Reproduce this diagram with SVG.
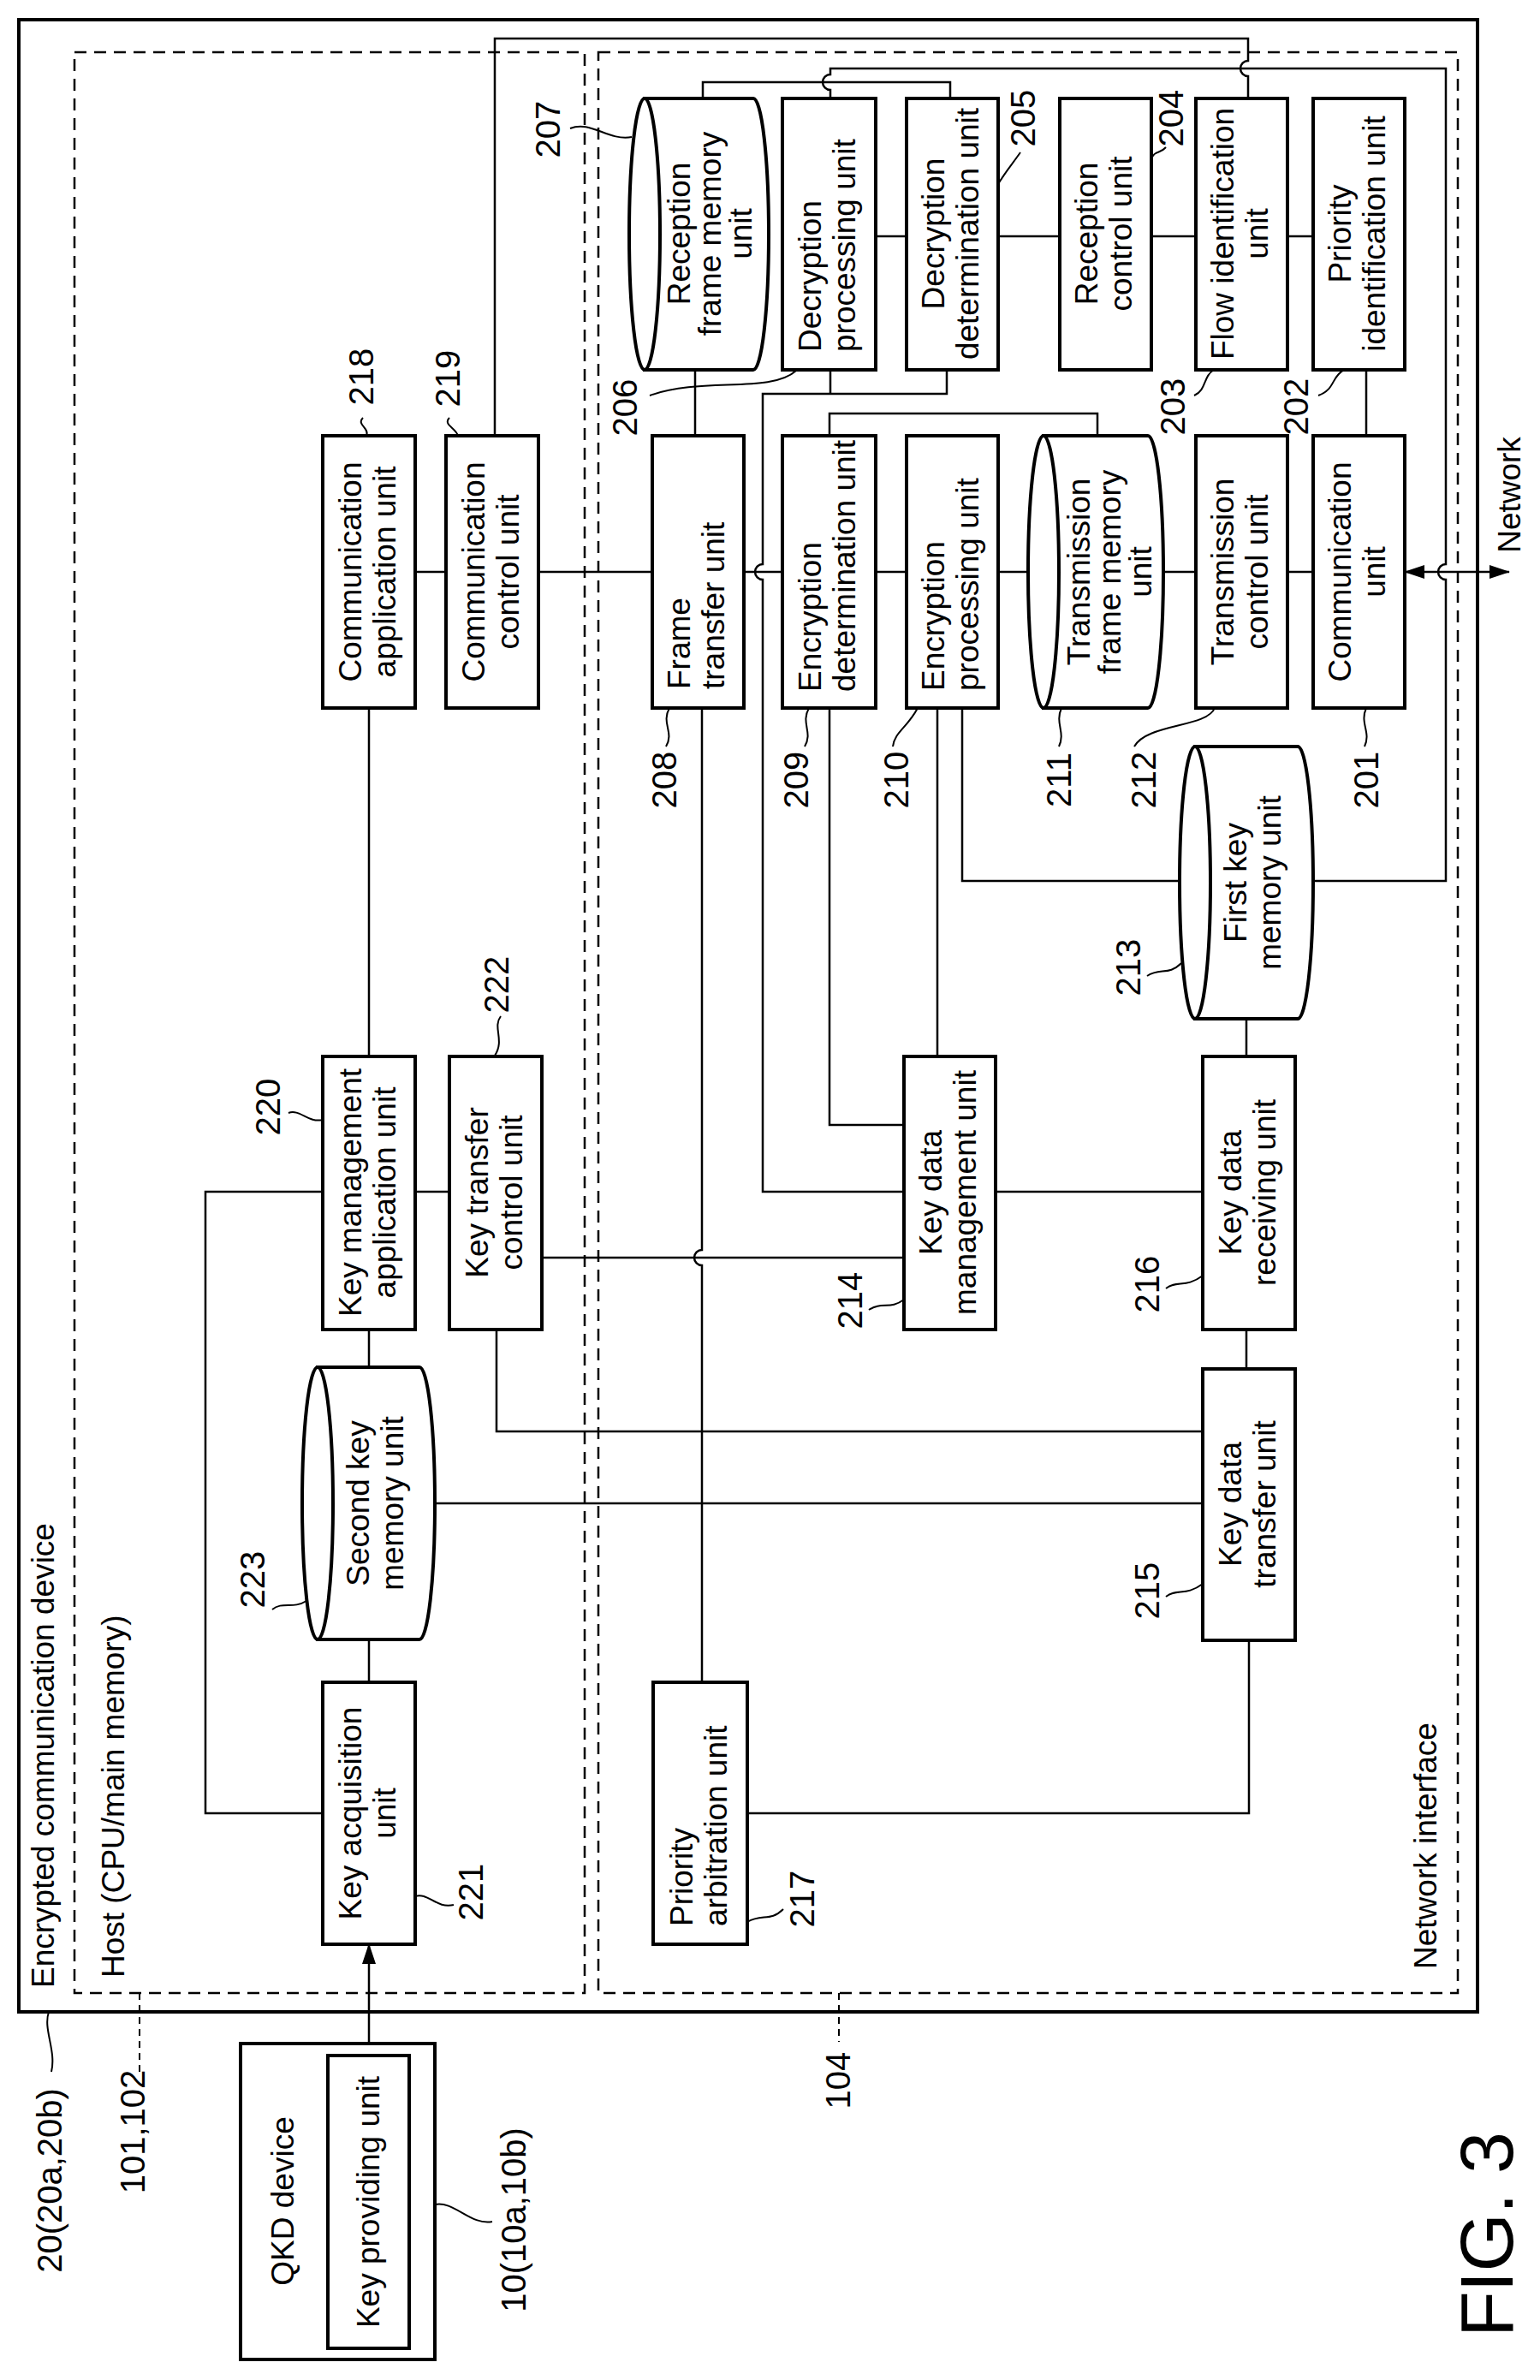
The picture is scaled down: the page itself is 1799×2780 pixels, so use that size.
<svg xmlns="http://www.w3.org/2000/svg" width="1799" height="2780" viewBox="0 0 1799 2780">
<style>
.b{fill:#fff;stroke:#000;stroke-width:4}
.c{fill:none;stroke:#000;stroke-width:2.5}
.d{fill:none;stroke:#000;stroke-width:2.5;stroke-dasharray:14 9}
.l{fill:none;stroke:#000;stroke-width:2}
.ld{fill:none;stroke:#000;stroke-width:2;stroke-dasharray:8 6}
text{font-family:"Liberation Sans",Arial,sans-serif;font-size:37px;fill:#000}
.m{text-anchor:middle}
.s{text-anchor:start}
.n{font-size:40px;text-anchor:middle}
</style>
<defs>
<marker id="ah" viewBox="0 0 24 16" refX="23" refY="8" markerWidth="24" markerHeight="16" markerUnits="userSpaceOnUse" orient="auto-start-reverse"><path d="M0,0 L24,8 L0,16 Z" fill="#000"/></marker>
</defs>
<g id="frames">
<rect x="22" y="23" width="1704" height="2327" fill="none" stroke="#000" stroke-width="4"/>
<rect class="d" x="87" y="61" width="596" height="2267"/>
<rect class="d" x="699" y="61" width="1004" height="2267"/>
<text transform="translate(63,2322) rotate(-90)" class="s">Encrypted communication device</text>
<text transform="translate(145,2310) rotate(-90)" class="s">Host (CPU/main memory)</text>
<text transform="translate(1678,2300) rotate(-90)" class="s">Network interface</text>
</g>
<g id="connectors">
<path class="c" d="M485,668H521M629,668H762M869,668H914M1023,668H1059M1166,668H1201M1359,668H1397M1504,668H1534"/>
<path class="c" d="M1641,668H1763" marker-start="url(#ah)" marker-end="url(#ah)"/>
<path class="c" d="M1596,432V509M1023,276H1059M1166,276H1238M1345,276H1397M1504,276H1534M812,432V509"/>
<path class="c" d="M821,115V96H1110V115"/>
<path class="c" d="M970,115V105A9,9 0 0 1 970,87V80H1689V659A9,9 0 0 0 1689,677V1029H1534"/>
<path class="c" d="M1124,827V1029H1378"/>
<path class="c" d="M970,432V460M1106,432V460H891V659A9,9 0 0 0 891,677V1392H1056"/>
<path class="c" d="M969,509V483H1282V509"/>
<path class="c" d="M969,827V1314H1056M1095,827V1234"/>
<path class="c" d="M578,509V45H1458V71A9,9 0 0 0 1458,89V115"/>
<path class="c" d="M431,827V1234M485,1392H525M377,1392H240V2118H377M431,1553V1597M431,1915V1965"/>
<path class="c" d="M431,2401V2271" marker-end="url(#ah)"/>
<path class="c" d="M633,1469H1056M580,1553V1672H1405M508,1756H1405"/>
<path class="c" d="M820,827V1460A9,9 0 0 0 820,1478V1965"/>
<path class="c" d="M1163,1392H1405M1456,1190V1234M1456,1553V1599M1459,1916V2118H873"/>
</g>
<g id="n218"><rect class="b" x="377" y="509" width="108" height="318"/><text class="m" transform="translate(431,668) rotate(-90)"><tspan x="0" y="-9">Communication</tspan><tspan x="0" y="31">application unit</tspan></text></g>
<g id="n219"><rect class="b" x="521" y="509" width="108" height="318"/><text class="m" transform="translate(575,668) rotate(-90)"><tspan x="0" y="-9">Communication</tspan><tspan x="0" y="31">control unit</tspan></text></g>
<g id="n208"><rect class="b" x="762" y="509" width="107" height="318"/><text class="s" transform="translate(815,668) rotate(-90)"><tspan x="-137" y="-9">Frame</tspan><tspan x="-137" y="31">transfer unit</tspan></text></g>
<g id="n206"><rect class="b" x="914" y="115" width="109" height="317"/><text class="s" transform="translate(968,273) rotate(-90)"><tspan x="-138" y="-9">Decryption</tspan><tspan x="-138" y="31">processing unit</tspan></text></g>
<g id="n205"><rect class="b" x="1059" y="115" width="107" height="317"/><text class="m" transform="translate(1112,273) rotate(-90)"><tspan x="0" y="-9">Decryption</tspan><tspan x="0" y="31">determination unit</tspan></text></g>
<g id="n204"><rect class="b" x="1238" y="115" width="107" height="317"/><text class="m" transform="translate(1291,273) rotate(-90)"><tspan x="0" y="-9">Reception</tspan><tspan x="0" y="31">control unit</tspan></text></g>
<g id="n203"><rect class="b" x="1397" y="115" width="107" height="317"/><text class="m" transform="translate(1450,273) rotate(-90)"><tspan x="0" y="-9">Flow identification</tspan><tspan x="0" y="31">unit</tspan></text></g>
<g id="n202"><rect class="b" x="1534" y="115" width="107" height="317"/><text class="m" transform="translate(1587,273) rotate(-90)"><tspan x="0" y="-9">Priority</tspan><tspan x="0" y="31">identification unit</tspan></text></g>
<g id="n209"><rect class="b" x="914" y="509" width="109" height="318"/><text class="s" transform="translate(968,668) rotate(-90)"><tspan x="-140" y="-9">Encryption</tspan><tspan x="-140" y="31">determination unit</tspan></text></g>
<g id="n210"><rect class="b" x="1059" y="509" width="107" height="318"/><text class="s" transform="translate(1112,668) rotate(-90)"><tspan x="-139" y="-9">Encryption</tspan><tspan x="-139" y="31">processing unit</tspan></text></g>
<g id="n212"><rect class="b" x="1397" y="509" width="107" height="318"/><text class="m" transform="translate(1450,668) rotate(-90)"><tspan x="0" y="-9">Transmission</tspan><tspan x="0" y="31">control unit</tspan></text></g>
<g id="n201"><rect class="b" x="1534" y="509" width="107" height="318"/><text class="m" transform="translate(1587,668) rotate(-90)"><tspan x="0" y="-9">Communication</tspan><tspan x="0" y="31">unit</tspan></text></g>
<g id="n220"><rect class="b" x="377" y="1234" width="108" height="319"/><text class="m" transform="translate(431,1393) rotate(-90)"><tspan x="0" y="-9">Key management</tspan><tspan x="0" y="31">application unit</tspan></text></g>
<g id="n222"><rect class="b" x="525" y="1234" width="108" height="319"/><text class="m" transform="translate(579,1393) rotate(-90)"><tspan x="0" y="-9">Key transfer</tspan><tspan x="0" y="31">control unit</tspan></text></g>
<g id="n214"><rect class="b" x="1056" y="1234" width="107" height="319"/><text class="m" transform="translate(1109,1393) rotate(-90)"><tspan x="0" y="-9">Key data</tspan><tspan x="0" y="31">management unit</tspan></text></g>
<g id="n216"><rect class="b" x="1405" y="1234" width="108" height="319"/><text class="m" transform="translate(1459,1393) rotate(-90)"><tspan x="0" y="-9">Key data</tspan><tspan x="0" y="31">receiving unit</tspan></text></g>
<g id="n215"><rect class="b" x="1405" y="1599" width="108" height="317"/><text class="m" transform="translate(1459,1757) rotate(-90)"><tspan x="0" y="-9">Key data</tspan><tspan x="0" y="31">transfer unit</tspan></text></g>
<g id="n221"><rect class="b" x="377" y="1965" width="108" height="306"/><text class="m" transform="translate(431,2118) rotate(-90)"><tspan x="0" y="-9">Key acquisition</tspan><tspan x="0" y="31">unit</tspan></text></g>
<g id="n217"><rect class="b" x="763" y="1965" width="110" height="306"/><text class="s" transform="translate(818,2118) rotate(-90)"><tspan x="-132" y="-9">Priority</tspan><tspan x="-132" y="31">arbitration unit</tspan></text></g>
<g id="n207"><path class="b" d="M753,115H880A18,158.5 0 0 1 880,432H753Z"/><ellipse class="b" cx="753" cy="273.5" rx="18" ry="158.5"/><text class="m" transform="translate(832,273) rotate(-90)"><tspan x="0" y="-26">Reception</tspan><tspan x="0" y="10">frame memory</tspan><tspan x="0" y="46">unit</tspan></text></g>
<g id="n211"><path class="b" d="M1219,509H1341A18,159 0 0 1 1341,827H1219Z"/><ellipse class="b" cx="1219" cy="668" rx="18" ry="159"/><text class="m" transform="translate(1299,668) rotate(-90)"><tspan x="0" y="-26">Transmission</tspan><tspan x="0" y="10">frame memory</tspan><tspan x="0" y="46">unit</tspan></text></g>
<g id="n213"><path class="b" d="M1396,872H1516A18,159 0 0 1 1516,1190H1396Z"/><ellipse class="b" cx="1396" cy="1031" rx="18" ry="159"/><text class="m" transform="translate(1465,1031) rotate(-90)"><tspan x="0" y="-9">First key</tspan><tspan x="0" y="31">memory unit</tspan></text></g>
<g id="n223"><path class="b" d="M371,1597H490A18,159 0 0 1 490,1915H371Z"/><ellipse class="b" cx="371" cy="1756" rx="18" ry="159"/><text class="m" transform="translate(440,1756) rotate(-90)"><tspan x="0" y="-9">Second key</tspan><tspan x="0" y="31">memory unit</tspan></text></g>
<g id="qkd"><rect class="b" x="281" y="2387" width="227" height="369"/><rect class="b" x="383" y="2401" width="95" height="342"/><text class="m" transform="translate(330,2571) rotate(-90)" y="13">QKD device</text><text class="m" transform="translate(430,2572) rotate(-90)" y="13">Key providing unit</text></g>
<g id="network"><text class="m" transform="translate(1776,578) rotate(-90)">Network</text></g>
<g id="labels">
<path class="l" d="M666,150C690,140 710,165 738,160M424,488C416,496 432,500 428,509M525,488C517,496 533,500 535,509M759,462C820,440 900,460 930,433M782,827C772,845 788,855 778,872M945,827C935,845 950,855 940,872M1072,827C1060,850 1045,855 1043,872M1240,827C1232,845 1245,855 1237,872M1419,827C1410,850 1340,845 1325,872M1596,827C1588,845 1602,855 1594,872M1166,215C1175,200 1180,195 1192,178M1345,185C1350,175 1355,180 1362,172M1418,432C1405,440 1410,455 1395,462M1570,432C1555,440 1560,455 1540,462M337,1300C350,1295 360,1312 377,1308M585,1187C575,1200 590,1215 578,1233M1015,1530C1030,1520 1040,1530 1056,1518M1362,1505C1375,1495 1385,1505 1405,1490M1362,1865C1375,1855 1385,1865 1405,1850M1340,1140C1355,1130 1365,1140 1380,1125M318,1880C330,1870 342,1880 358,1870M485,2215C500,2210 510,2230 530,2225M873,2245C890,2235 900,2245 915,2230M57,2350C50,2370 66,2395 60,2420M508,2575C530,2570 550,2600 575,2595"/>
<path class="ld" d="M980,2328V2385M163,2328V2420"/>
<text class="n" transform="translate(640,151) rotate(-90)" y="14">207</text>
<text class="n" transform="translate(422,440) rotate(-90)" y="14">218</text>
<text class="n" transform="translate(523,442) rotate(-90)" y="14">219</text>
<text class="n" transform="translate(730,476) rotate(-90)" y="14">206</text>
<text class="n" transform="translate(776,911) rotate(-90)" y="14">208</text>
<text class="n" transform="translate(930,911) rotate(-90)" y="14">209</text>
<text class="n" transform="translate(1047,911) rotate(-90)" y="14">210</text>
<text class="n" transform="translate(1237,911) rotate(-90)" y="14">211</text>
<text class="n" transform="translate(1336,911) rotate(-90)" y="14">212</text>
<text class="n" transform="translate(1596,911) rotate(-90)" y="14">201</text>
<text class="n" transform="translate(1195,138) rotate(-90)" y="14">205</text>
<text class="n" transform="translate(1368,138) rotate(-90)" y="14">204</text>
<text class="n" transform="translate(1370,475) rotate(-90)" y="14">203</text>
<text class="n" transform="translate(1514,475) rotate(-90)" y="14">202</text>
<text class="n" transform="translate(313,1293) rotate(-90)" y="14">220</text>
<text class="n" transform="translate(580,1150) rotate(-90)" y="14">222</text>
<text class="n" transform="translate(993,1519) rotate(-90)" y="14">214</text>
<text class="n" transform="translate(1340,1500) rotate(-90)" y="14">216</text>
<text class="n" transform="translate(1340,1858) rotate(-90)" y="14">215</text>
<text class="n" transform="translate(1318,1130) rotate(-90)" y="14">213</text>
<text class="n" transform="translate(295,1845) rotate(-90)" y="14">223</text>
<text class="n" transform="translate(550,2210) rotate(-90)" y="14">221</text>
<text class="n" transform="translate(937,2218) rotate(-90)" y="14">217</text>
<text class="n" transform="translate(979,2430) rotate(-90)" y="14">104</text>
<text class="n" transform="translate(155,2490) rotate(-90)" y="14">101,102</text>
<text class="n" transform="translate(58,2547) rotate(-90)" y="14">20(20a,20b)</text>
<text class="n" transform="translate(600,2593) rotate(-90)" y="14">10(10a,10b)</text>
<text transform="translate(1767,2730) rotate(-90)" style="font-size:88px" textLength="240" lengthAdjust="spacing">FIG. 3</text>
</g>
</svg>
